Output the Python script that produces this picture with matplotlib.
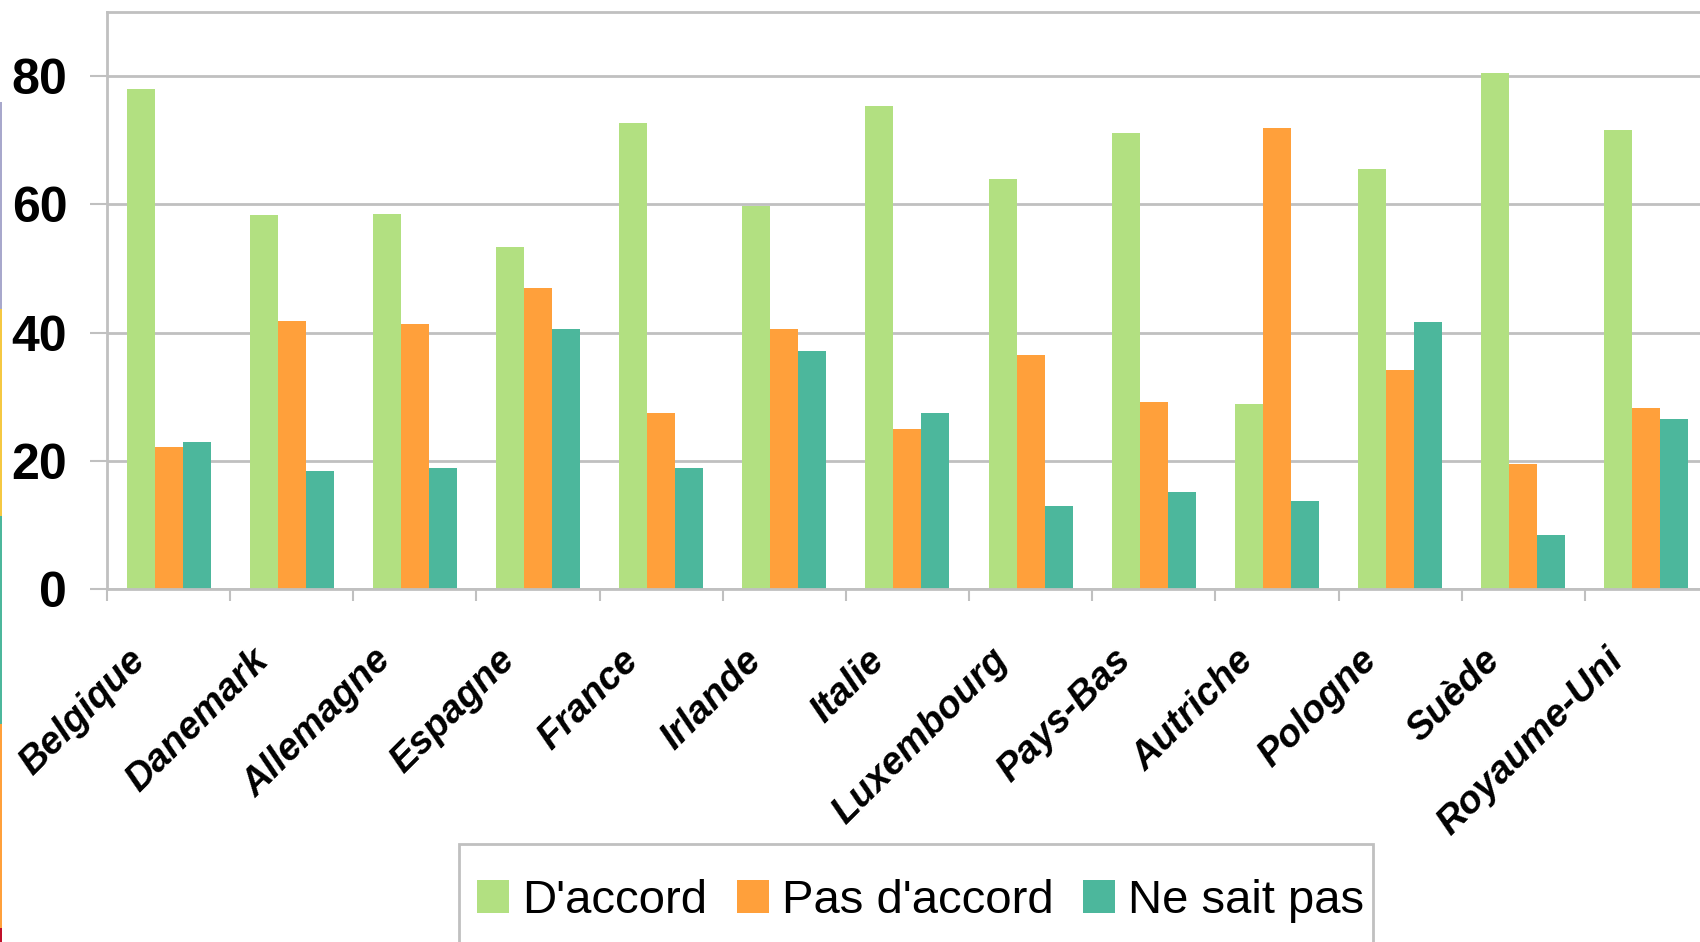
import matplotlib
matplotlib.use('Agg')
import matplotlib.pyplot as plt
from matplotlib.patches import Rectangle
import numpy as np

pays = ['Belgique', 'Danemark', 'Allemagne', 'Espagne', 'France', 'Irlande',
        'Italie', 'Luxembourg', 'Pays-Bas', 'Autriche', 'Pologne', 'Suède',
        'Royaume-Uni']
d_accord = [78.0, 58.4, 58.5, 53.3, 72.7, 59.7, 75.3, 63.9, 71.2, 28.8, 65.5, 80.5, 71.6]
pas_d_accord = [22.2, 41.8, 41.4, 47.0, 27.4, 40.6, 24.9, 36.5, 29.1, 71.9, 34.2, 19.5, 28.3]
ne_sait_pas = [23.0, 18.4, 18.8, 40.6, 18.8, 37.2, 27.4, 12.9, 15.2, 13.7, 41.7, 8.4, 26.5]
series = ["D'accord", "Pas d'accord", "Ne sait pas"]
couleurs = ['#B2E081', '#FFA03B', '#4CB79C']
gris = '#C0C0C0'

plt.rcParams['font.family'] = ['Liberation Sans', 'DejaVu Sans']

fig = plt.figure(figsize=(17, 9.42), dpi=100)
# la zone de tracé déborde un peu à droite, comme sur l'original
ax = fig.add_axes([107/1700, 353/942, 13*123.15/1700, 577/942])

x = np.arange(len(pays))
w = 0.2275
for k, (vals, nom, c) in enumerate(zip([d_accord, pas_d_accord, ne_sait_pas], series, couleurs)):
    ax.bar(x + (k - 1)*w, vals, w, color=c, label=nom, zorder=2)

ax.set_xlim(-0.5, len(pays) - 0.5)
ax.set_ylim(0, 90)
ax.set_yticks([0, 20, 40, 60, 80])
ax.yaxis.grid(True, color=gris, lw=2)
ax.set_axisbelow(True)
for s in ax.spines.values():
    s.set_color(gris)
    s.set_linewidth(2)
ax.tick_params(axis='y', length=12.2, width=1.5, color=gris, pad=16.5, labelsize=36)
for lab in ax.get_yticklabels():
    lab.set_fontweight('bold')
ax.set_xticks(np.arange(len(pays) + 1) - 0.5)
ax.set_xticklabels([])
ax.tick_params(axis='x', length=8.6, width=1.5, color=gris)

# étiquettes des pays, inclinées à 45°
for i, nom in enumerate(pays):
    ax.annotate(nom, xy=(i, 0), xytext=(-15.5, -52.5), textcoords='offset points',
                rotation=45, rotation_mode='anchor', ha='right', va='baseline',
                fontsize=27.5, fontweight='bold', fontstyle='italic')

# légende
h, l = ax.get_legend_handles_labels()
fig.legend(h, l, loc='center left', bbox_to_anchor=(477/1700, 1 - 901/942), ncol=3,
           frameon=False, fontsize=34, handlelength=0.68, handleheight=0.68,
           handletextpad=0.28, columnspacing=0.62, borderpad=0, borderaxespad=0)
fig.add_artist(Rectangle((459/1700, -0.05), (1373 - 459)/1700, 98/942 + 0.05,
                         transform=fig.transFigure, fill=False, ec=gris, lw=2))

# liseré coloré au bord gauche
for y0, y1, c in [(102, 309, '#A8A8CC'), (309, 516, '#F5C842'), (516, 724, '#4CB79C'),
                  (724, 928, '#FFA03B'), (928, 942, '#C0102A')]:
    fig.add_artist(Rectangle((0, 1 - y1/942), 2/1700, (y1 - y0)/942,
                             transform=fig.transFigure, color=c, lw=0))

fig.savefig('out.png', dpi=100)
